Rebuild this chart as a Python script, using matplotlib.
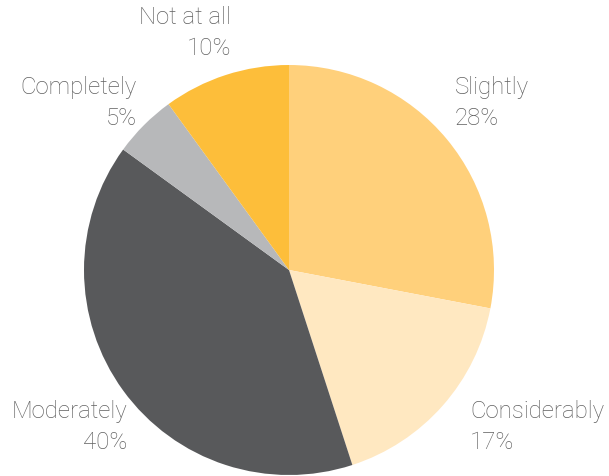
import matplotlib
matplotlib.use("Agg")
import matplotlib.pyplot as plt

categories = ["Slightly", "Considerably", "Moderately", "Completely", "Not at all"]
values = [28, 17, 40, 5, 10]
colors = ["#FFD07B", "#FFE8C1", "#58595B", "#B7B8BA", "#FDBE3A"]

# label anchor positions (in pie radius units) and alignment
label_pos = [(0.81, 0.82, "left"), (0.883, -0.761, "left"), (-0.79, -0.761, "right"),
             (-0.741, 0.82, "right"), (-0.283, 1.161, "right")]

W, H = 609, 477
fig = plt.figure(figsize=(W / 100, H / 100), dpi=100)
cx, cy, r = 289, 271, 205
ax = fig.add_axes([(cx - r) / W, (H - cy - r) / H, 2 * r / W, 2 * r / H])
ax.pie(values, colors=colors, startangle=90, counterclock=False,
       wedgeprops=dict(linewidth=0), radius=1)
ax.set_xlim(-1, 1)
ax.set_ylim(-1, 1)
ax.set_aspect("equal")
ax.axis("off")

for cat, v, (x, y, ha) in zip(categories, values, label_pos):
    ax.text(x, y, f"{cat}\n{v}%", ha=ha, va="center", fontsize=17.3,
            color="#606060", family=["Roboto", "DejaVu Sans"], fontweight="light",
            linespacing=1.42, clip_on=False)

fig.savefig("out.png", dpi=100)
